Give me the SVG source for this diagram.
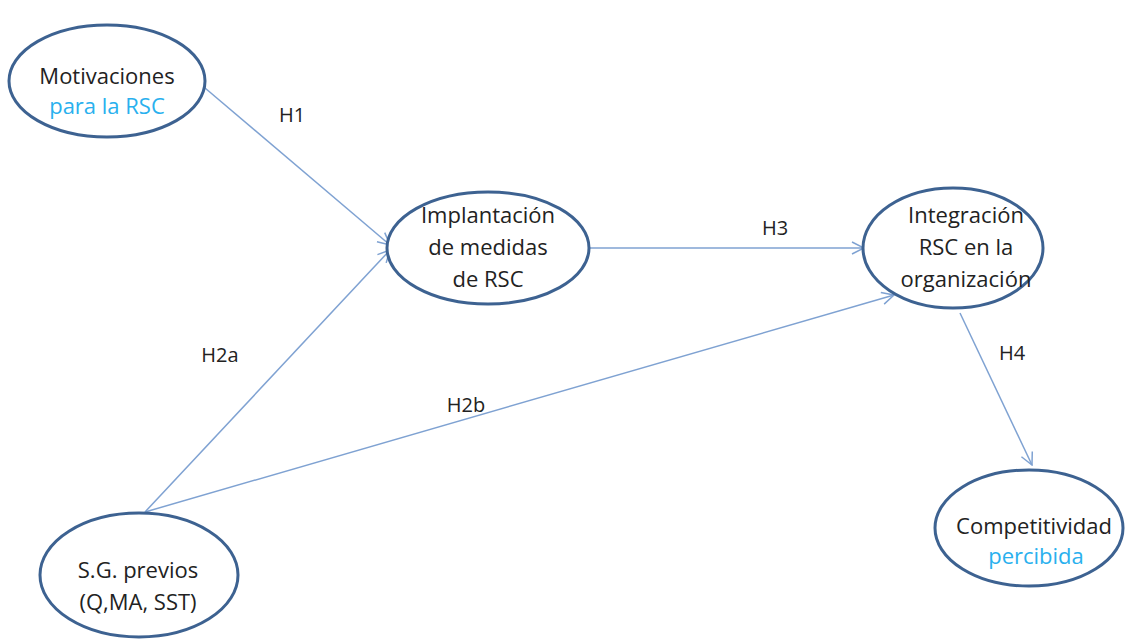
<svg xmlns="http://www.w3.org/2000/svg" width="1126" height="642" viewBox="0 0 1126 642">
<style>
.node{fill:#fff;stroke:#3d6291;stroke-width:3}
.t{font-family:"Open Sans","Liberation Sans",Arial,sans-serif;font-size:22px;fill:#222;text-anchor:middle}
.b{fill:#29b0ee}
.lbl{font-family:"Open Sans","Liberation Sans",Arial,sans-serif;font-size:20px;fill:#222;text-anchor:middle}
.edge{stroke:#7fa2d2;stroke-width:1.5;fill:none;marker-end:url(#arr)}
</style>
<defs>
<marker id="arr" viewBox="0 0 14 14" refX="13" refY="7" markerWidth="14" markerHeight="14" markerUnits="userSpaceOnUse" orient="auto">
<path d="M1,1 L13,7 L1,13" fill="none" stroke="#7fa2d2" stroke-width="1.5"/>
</marker>
</defs>
<rect width="1126" height="642" fill="#fff"/>
<g id="connectors">
<line class="edge" x1="205" y1="88" x2="390" y2="245"/>
<line class="edge" x1="145" y1="512" x2="390" y2="250"/>
<line class="edge" x1="590" y1="248" x2="864" y2="248"/>
<line class="edge" x1="145" y1="512" x2="894" y2="295"/>
<line class="edge" x1="960" y1="313" x2="1032" y2="465"/>
<text class="lbl" x="292" y="122">H1</text>
<text class="lbl" x="775" y="235">H3</text>
<text class="lbl" x="220" y="362">H2a</text>
<text class="lbl" x="466" y="412">H2b</text>
<text class="lbl" x="1012" y="360">H4</text>
</g>
<g id="motivaciones">
<ellipse class="node" cx="107" cy="81" rx="98" ry="56"/>
<text class="t" x="107" y="84">Motivaciones</text>
<text class="t b" x="107" y="114">para la RSC</text>
</g>
<g id="implantacion">
<ellipse class="node" cx="488" cy="248" rx="101" ry="56"/>
<text class="t" x="488" y="223">Implantación</text>
<text class="t" x="488" y="255">de medidas</text>
<text class="t" x="488" y="287">de RSC</text>
</g>
<g id="integracion">
<ellipse class="node" cx="953" cy="248" rx="90" ry="60"/>
<text class="t" x="966" y="223">Integración</text>
<text class="t" x="966" y="255">RSC en la</text>
<text class="t" x="966" y="287">organización</text>
</g>
<g id="competitividad">
<ellipse class="node" cx="1029" cy="528" rx="94" ry="58"/>
<text class="t" x="1034" y="534">Competitividad</text>
<text class="t b" x="1036" y="564">percibida</text>
</g>
<g id="sgprevios">
<ellipse class="node" cx="139" cy="575" rx="99" ry="62"/>
<text class="t" x="138" y="578">S.G. previos</text>
<text class="t" x="138" y="610">(Q,MA, SST)</text>
</g>
</svg>
